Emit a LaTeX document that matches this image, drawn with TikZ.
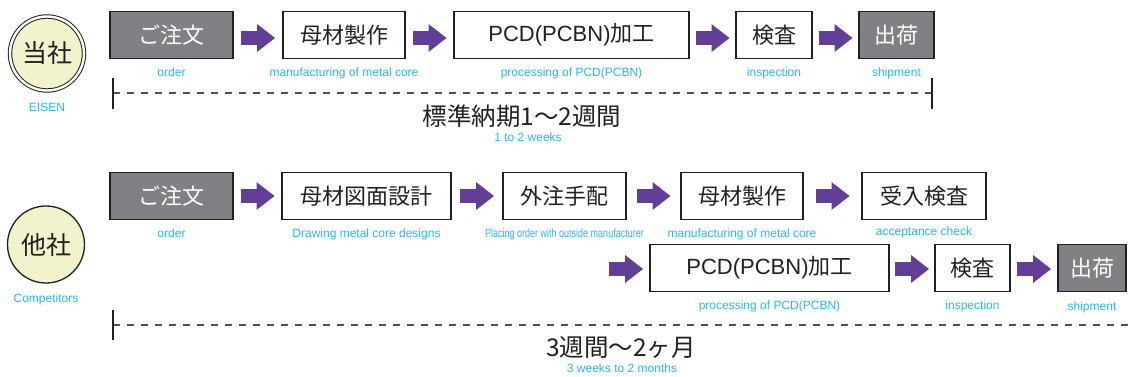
\documentclass[tikz,border=0pt]{standalone}
\usepackage{fontspec}
\setmainfont{Liberation Sans}
\newfontfamily\jpfont{Noto Sans CJK JP}
\usetikzlibrary{positioning,calc,arrows.meta}

\definecolor{ink}{RGB}{35,31,32}
\definecolor{boxgray}{RGB}{128,129,133}
\definecolor{flowpurple}{RGB}{98,62,151}
\definecolor{capcyan}{RGB}{41,182,240}
\definecolor{circfill}{RGB}{242,243,204}
\definecolor{spangray}{RGB}{80,80,80}

\tikzset{
  stepbox/.style={draw=ink, line width=1.8pt, fill=white, text=ink,
    minimum height=47pt, inner sep=0pt, font=\jpfont\fontsize{22}{26}\selectfont},
  stepdark/.style={stepbox, fill=boxgray, text=white},
  enlabel/.style={text=capcyan, font=\fontsize{12}{14}\selectfont,
    inner sep=0pt, text height=9pt, text depth=2.5pt},
  flowarrow/.style={draw=flowpurple, line width=13.5pt,
    -{Triangle[length=18pt,width=28pt,line width=0pt]}},
  spanline/.style={draw=spangray, line width=1.3pt, dash pattern=on 7pt off 7pt},
  spanend/.style={draw=ink, line width=1.5pt},
  leadtime/.style={font=\jpfont\fontsize{24.5}{28}\selectfont, text=ink, inner sep=0pt},
  firm/.style={circle, draw=ink, fill=circfill, line width=1.3pt, minimum size=77pt,
    inner sep=0pt, font=\jpfont\fontsize{25}{28}\selectfont, text=ink},
}

% 箱と箱の間に一定長の矢印
\newcommand{\FlowArrow}[3][0]{%
  \draw[flowarrow] ($(#2.east)!.5!(#3.west)+(-17,#1)$) -- ++(34,0);
}

\begin{document}
\begin{tikzpicture}[x=1pt,y=-1pt]
  \useasboundingbox (0,0) rectangle (1128,376);

  % 当社
  \node[firm, double=white, double distance=2.4pt, line width=1pt, minimum size=74pt]
    (eisen) at (47,53.5) {当社};
  \node[enlabel, below=11pt of eisen] (eisenl) {EISEN};

  \node[stepdark, minimum width=123pt] (a1) at (171.5,35) {ご注文};
  \node[stepbox,  minimum width=122pt] (a2) at (344,35)   {母材製作};
  \node[stepbox,  minimum width=235pt] (a3) at (571.5,35) {{\normalfont PCD(PCBN)}加工};
  \node[stepbox,  minimum width=76pt]  (a4) at (774,35)   {検査};
  \node[stepdark, minimum width=75pt]  (a5) at (896.5,35) {出荷};

  \node[enlabel, below=8pt of a1] (a1l) {order};
  \node[enlabel, below=8pt of a2] (a2l) {manufacturing of metal core};
  \node[enlabel, below=8pt of a3] (a3l) {processing of PCD(PCBN)};
  \node[enlabel, below=8pt of a4] (a4l) {inspection};
  \node[enlabel, below=8pt of a5] (a5l) {shipment};

  \FlowArrow[3]{a1}{a2}
  \FlowArrow[3]{a2}{a3}
  \FlowArrow[3]{a3}{a4}
  \FlowArrow[3]{a4}{a5}

  % 納期 (当社)
  \coordinate (s1) at (113,93);
  \coordinate (e1) at (932,93);
  \draw[spanline] (s1) -- (e1);
  \draw[spanend] ([yshift=15pt]s1) -- ([yshift=-16pt]s1);
  \draw[spanend] ([yshift=15pt]e1) -- ([yshift=-16pt]e1);
  \node[leadtime] (lt1) at (522,116.5) {標準納期1〜2週間};
  \node[enlabel] (lt1e) at (528,138) {1 to 2 weeks};

  % 他社
  \node[firm] (rival) at (46,244.5) {他社};
  \node[enlabel, below=10pt of rival] (rivall) {Competitors};

  \node[stepdark, minimum width=123pt] (b1) at (171.5,196) {ご注文};
  \node[stepbox,  minimum width=169pt] (b2) at (366.5,196) {母材図面設計};
  \node[stepbox,  minimum width=123pt] (b3) at (564.5,196) {外注手配};
  \node[stepbox,  minimum width=122pt] (b4) at (742,196)   {母材製作};
  \node[stepbox,  minimum width=124pt] (b5) at (924,196)   {受入検査};

  \node[enlabel, below=8pt of b1] (b1l) {order};
  \node[enlabel, below=8pt of b2] (b2l) {Drawing metal core designs};
  \node[enlabel, below=8pt of b3] (b3l) {\scalebox{0.75}[1]{Placing order with outside manufacturer}};
  \node[enlabel, below=8pt of b4] (b4l) {manufacturing of metal core};
  \node[enlabel, below=6pt of b5] (b5l) {acceptance check};

  \FlowArrow{b1}{b2}
  \FlowArrow{b2}{b3}
  \FlowArrow{b3}{b4}
  \FlowArrow{b4}{b5}

  \coordinate (b6in) at (603,268);
  \node[stepbox,  minimum width=239pt] (b6) at (769.5,268) {{\normalfont PCD(PCBN)}加工};
  \node[stepbox,  minimum width=75pt]  (b7) at (972.5,268) {検査};
  \node[stepdark, minimum width=68pt]  (b8) at (1092,268)  {出荷};

  \node[enlabel, below=8pt of b6] (b6l) {processing of PCD(PCBN)};
  \node[enlabel, below=8pt of b7] (b7l) {inspection};
  \node[enlabel, below=9pt of b8] (b8l) {shipment};

  \draw[flowarrow] ($(b6in)!.5!(b6.west)+(-17,1)$) -- ++(34,0);
  \FlowArrow[1]{b6}{b7}
  \FlowArrow[1]{b7}{b8}

  % 納期 (他社)
  \coordinate (s2) at (113,325);
  \coordinate (e2) at (1128,325);
  \draw[spanline] (s2) -- (e2);
  \draw[spanend] ([yshift=15pt]s2) -- ([yshift=-15pt]s2);
  \node[leadtime] (lt2) at (621,347.5) {3週間〜2ヶ月};
  \node[enlabel] (lt2e) at (622,369.5) {3 weeks to 2 months};
\end{tikzpicture}
\end{document}
